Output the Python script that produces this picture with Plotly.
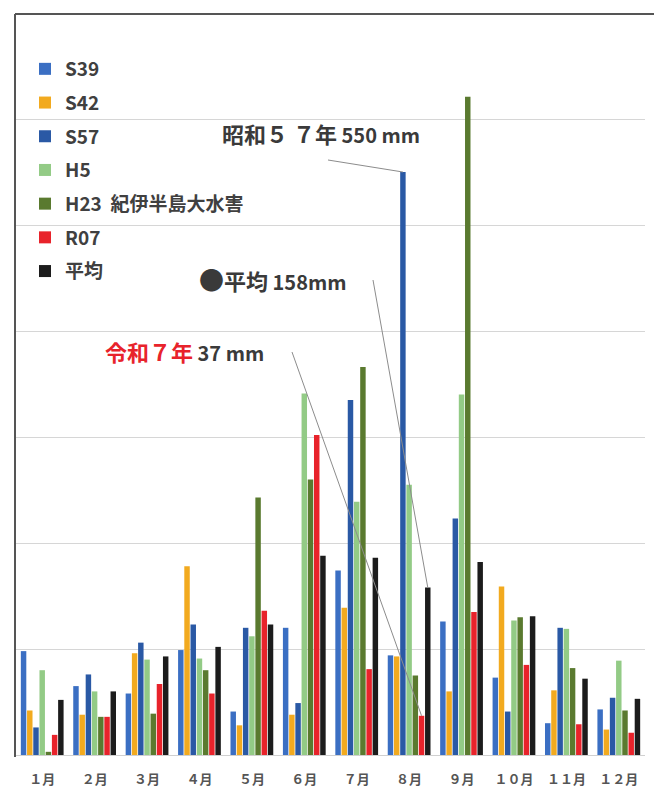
import plotly.graph_objects as go

# Monthly rainfall (mm) for notable years and the long-term average
months = ["１月", "２月", "３月", "４月", "５月", "６月",
          "７月", "８月", "９月", "１０月", "１１月", "１２月"]
s39 = [98, 65, 58, 99, 41, 120, 174, 94, 126, 73, 30, 43]
s42 = [42, 38, 96, 178, 28, 38, 139, 93, 60, 159, 61, 24]
s57 = [26, 76, 106, 123, 120, 49, 335, 550, 223, 41, 120, 54]
h5 = [80, 60, 90, 91, 112, 341, 239, 255, 340, 127, 119, 89]
h23 = [3, 36, 39, 80, 243, 260, 366, 75, 621, 130, 82, 42]
r07 = [19, 36, 67, 58, 136, 302, 81, 37, 135, 85, 29, 21]
avg = [52, 60, 93, 102, 123, 188, 186, 158, 182, 131, 72, 53]

names = ["S39", "S42", "S57", "H5", "H23  紀伊半島大水害", "R07", "平均"]
series = [s39, s42, s57, h5, h23, r07, avg]
colors = ["#3b6fc3", "#f2aa1f", "#2a59a5", "#93cb86", "#5a7a2f", "#e8232b", "#1c1c1c"]

FONT = "Noto Sans CJK JP"
W, H = 654, 787
ML, MR, MT, MB = 16, 9, 13, 32
YMAX = 700
BARGAP = 0.17
PW, PH = W - ML - MR, H - MT - MB

fig = go.Figure()
for nm, vals, col in zip(names, series, colors):
    fig.add_trace(go.Bar(
        x=months, y=vals, name=nm, marker_color=col,
        marker_line_width=0, legendgroup=nm,
    ))


def px_to_data(px, py):
    """Pixel position on the page -> (category index, mm)."""
    return (px - ML) / (PW / len(months)) - 0.5, (H - MB - py) * YMAX / PH


def px_to_paper(px, py):
    return (px - ML) / PW, (H - MB - py) / PH


def bar_top(series_idx, month_idx):
    slot = (1 - BARGAP) / len(series)
    off = -(1 - BARGAP) / 2 + (series_idx + 0.5) * slot
    return month_idx + off, series[series_idx][month_idx]


# leader lines from the callouts to the August bars
callouts = [
    ((328, 160), bar_top(2, 7)),   # S57 August
    ((373, 280), bar_top(6, 7)),   # average August
    ((292, 352), bar_top(5, 7)),   # R07 August
]
shapes = []
for (sx, sy), (ex, ey) in callouts:
    x0, y0 = px_to_data(sx, sy)
    shapes.append(dict(type="line", xref="x", yref="y", x0=x0, y0=y0,
                       x1=ex, y1=ey, line=dict(color="#8c8c8c", width=1)))

# chart frame: left and top borders
lx, _ = px_to_paper(15, 0)
rx, _ = px_to_paper(654, 0)
_, ty = px_to_paper(0, 14)
_, by = px_to_paper(0, 757)
shapes.append(dict(type="line", xref="paper", yref="paper", x0=lx, x1=lx,
                   y0=by, y1=ty, line=dict(color="#555555", width=2)))
shapes.append(dict(type="line", xref="paper", yref="paper", x0=lx, x1=rx,
                   y0=ty, y1=ty, line=dict(color="#555555", width=2)))

annotations = []
for (px, py), txt in [
    ((220, 133), "<b><span style='font-size:22px'>昭和５ ７年</span> 550 mm</b>"),
    ((197, 279), "<b><span style='font-size:25px'>●</span><span style='font-size:22px'>平均</span> 158mm</b>"),
    ((103, 351), "<b><span style='font-size:22px;color:#e8232b'>令和７年</span> 37 mm</b>"),
]:
    xp, yp = px_to_paper(px, py)
    annotations.append(dict(xref="paper", yref="paper", x=xp, y=yp, text=txt,
                            showarrow=False, xanchor="left", yanchor="middle",
                            font=dict(family=FONT, size=20, color="#3a3a3a")))

lx0, ly0 = px_to_paper(25, 50)
fig.update_layout(
    width=W, height=H,
    margin=dict(l=ML, r=MR, t=MT, b=MB, autoexpand=False),
    paper_bgcolor="white", plot_bgcolor="white",
    barmode="group", bargap=BARGAP, bargroupgap=0.12,
    font=dict(family=FONT, color="#404040"),
    showlegend=True,
    legend=dict(x=lx0, y=ly0, xanchor="left", yanchor="top",
                bgcolor="rgba(0,0,0,0)", tracegroupgap=6, itemwidth=30,
                font=dict(family=FONT, size=19, color="#404040", weight="bold")),
    xaxis=dict(showgrid=False, showline=True, linecolor="#d0d0d0", linewidth=1,
               ticks="", ticklabelstandoff=12, automargin=False,
               tickfont=dict(family=FONT, size=13, color="#555555", weight="bold")),
    yaxis=dict(range=[0, YMAX], dtick=100, showgrid=True, gridcolor="#d6d6d6",
               gridwidth=1, showticklabels=False, zeroline=False, showline=False,
               automargin=False),
    shapes=shapes, annotations=annotations,
)

fig.write_html("out.html")
